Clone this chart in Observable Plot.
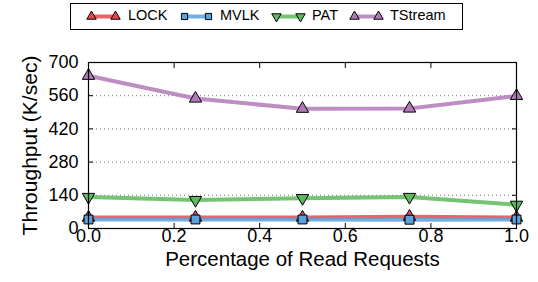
<!DOCTYPE html>
<html>
<head>
<meta charset="utf-8">
<script src="https://cdn.jsdelivr.net/npm/d3@7"></script>
<script src="https://cdn.jsdelivr.net/npm/@observablehq/plot@0.6"></script>
<style>
  html, body { margin: 0; padding: 0; background: #fff; }
  body { width: 538px; height: 282px; overflow: hidden; font-family: "Liberation Sans", Arial, Helvetica, sans-serif; }
  #legend { position: relative; height: 34px; }
  #legend .box { position: absolute; left: 70px; top: 3px; width: 393px; height: 27px; border: 1px solid #000; box-sizing: border-box; }
  #legend .item { position: absolute; top: 6px; font-size: 14.5px; line-height: 18px; }
  #legend svg { position: absolute; top: 9px; }
</style>
</head>
<body>
<div id="legend"></div>
<div id="chart"></div>
<script>
const xValues = [0.0, 0.25, 0.5, 0.75, 1.0];
const seriesNames = ["LOCK", "MVLK", "PAT", "TStream"];
const lockValues = [46, 46, 46, 50, 46];
const mvlkValues = [38, 38, 38, 37, 38];
const patValues = [133, 120, 128, 133, 100];
const tstreamValues = [644, 548, 505, 506, 559];
const yTicks = [0, 140, 280, 420, 560, 700];
const xTicks = [0.0, 0.2, 0.4, 0.6, 0.8, 1.0];

const colors = {LOCK: "#e8484c", MVLK: "#5aa2dc", PAT: "#5dba5b", TStream: "#b07ab6"};
const symbols = {LOCK: "triangle", MVLK: "square", PAT: "triangle", TStream: "triangle"};
const rotations = {LOCK: 0, MVLK: 0, PAT: 180, TStream: 0};

const valuesBySeries = {LOCK: lockValues, MVLK: mvlkValues, PAT: patValues, TStream: tstreamValues};
const data = seriesNames.flatMap(s => xValues.map((x, i) => ({series: s, x, y: valuesBySeries[s][i]})));

const marks = [
  Plot.gridY(yTicks.slice(1, -1), {stroke: "#777", strokeOpacity: 1, strokeDasharray: "1,3", strokeWidth: 1}),
  Plot.axisY(yTicks, {tickSize: -5, tickPadding: 15, fontSize: 18, label: null}),
  Plot.axisY(yTicks, {anchor: "right", tickSize: -5, tickFormat: () => "", label: null}),
  Plot.axisX(xTicks, {tickSize: -5, tickPadding: 6, fontSize: 18, tickFormat: d3.format(".1f"), label: null}),
  Plot.axisX(xTicks, {anchor: "top", tickSize: -5, tickFormat: () => "", label: null})
];
for (const s of seriesNames) {
  const d = data.filter(r => r.series === s);
  marks.push(Plot.line(d, {x: "x", y: "y", stroke: colors[s], strokeWidth: 4, strokeOpacity: 0.85}));
}
for (const s of seriesNames) {
  const d = data.filter(r => r.series === s);
  marks.push(Plot.dot(d, {x: "x", y: "y", symbol: symbols[s], rotate: rotations[s], r: s === "MVLK" ? 5 : 4.6, fill: colors[s], stroke: "#000", strokeWidth: 1}));
}
marks.push(Plot.frame({stroke: "#000", strokeWidth: 1.2}));
marks.push(Plot.text(["Percentage of Read Requests"], {frameAnchor: "bottom", dy: 37, fontSize: 20.5}));
marks.push(Plot.text(["Throughput (K/sec)"], {frameAnchor: "left", dx: -58, rotate: -90, textAnchor: "middle", fontSize: 21}));

const chart = Plot.plot({
  width: 538,
  height: 248,
  marginLeft: 88,
  marginRight: 22,
  marginTop: 28,
  marginBottom: 54,
  style: {fontFamily: "Liberation Sans, Arial, Helvetica, sans-serif", color: "#000", background: "#fff", overflow: "visible"},
  x: {domain: [0, 1]},
  y: {domain: [0, 700]},
  marks
});
document.getElementById("chart").appendChild(chart);

// legend
const legend = document.getElementById("legend");
const box = document.createElement("div");
box.className = "box";
legend.appendChild(box);
const legendPos = {LOCK: [88, 128], MVLK: [181, 220], PAT: [273, 312], TStream: [351, 390]};
for (const s of seriesNames) {
  const [sx, tx] = legendPos[s];
  const sw = Plot.plot({
    width: 30, height: 14, margin: 0,
    x: {domain: [0, 1], range: [3, 27], axis: null},
    y: {domain: [0, 1], range: [7, 7], axis: null},
    style: {overflow: "visible", background: "transparent"},
    marks: [
      Plot.line([{x: 0, y: 0}, {x: 1, y: 0}], {x: "x", y: "y", stroke: colors[s], strokeWidth: 4, strokeOpacity: 0.85}),
      Plot.dot([{x: 0, y: 0}, {x: 1, y: 0}], {x: "x", y: "y", symbol: symbols[s], rotate: rotations[s], r: 3.5, fill: colors[s], stroke: "#000", strokeWidth: 1})
    ]
  });
  sw.style.left = sx + "px";
  legend.appendChild(sw);
  const t = document.createElement("div");
  t.className = "item";
  t.style.left = tx + "px";
  t.textContent = s;
  legend.appendChild(t);
}
</script>
</body>
</html>
